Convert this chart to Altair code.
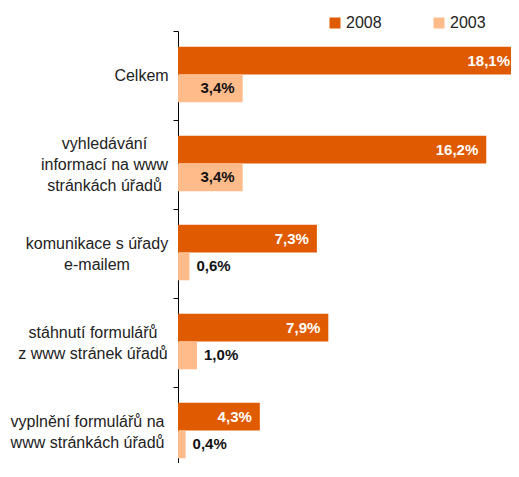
import altair as alt
import pandas as pd

categories = [
    "Celkem",
    "vyhledávání|informací na www|stránkách úřadů",
    "komunikace s úřady|e-mailem",
    "stáhnutí formulářů|z www stránek úřadů",
    "vyplnění formulářů na|www stránkách úřadů",
]
series = ["2008", "2003"]
values_2008 = [18.1, 16.2, 7.3, 7.9, 4.3]
values_2003 = [3.4, 3.4, 0.6, 1.0, 0.4]
colors = ["#E05A00", "#FFBB8A"]

# label centre offsets (styling) for each category label
label_pad = [32, 69, 76.5, 80.5, 86]
LINE_H = 21

XMAX = 17.5  # visible part of the value axis (longest bar runs off the edge)

rows = []
for c, a, b in zip(categories, values_2008, values_2003):
    rows.append({"cat": c, "series": "2008", "value": a})
    rows.append({"cat": c, "series": "2003", "value": b})
df = pd.DataFrame(rows)
df["label"] = df["value"].map(lambda v: f"{v:.1f}".replace(".", ",") + "%")

pad_cond = {
    "condition": [
        {"test": f"datum.value == '{c}'", "value": p}
        for c, p in zip(categories[:-1], label_pad[:-1])
    ],
    "value": label_pad[-1],
}
# vertical centring of multi-line labels
offs = [-(c.count("|")) * LINE_H / 2 for c in categories]
off_cond = {
    "condition": [
        {"test": f"datum.value == '{c}'", "value": o}
        for c, o in zip(categories[:-1], offs[:-1])
    ],
    "value": offs[-1],
}

FONT = "Liberation Sans"

y = alt.Y(
    "cat:N",
    sort=categories,
    scale=alt.Scale(paddingInner=0, paddingOuter=0, range=[0, 445]),
    axis=alt.Axis(
        title=None,
        labelExpr="split(datum.label, '|')",
        tickBand="extent",
        labelAlign="center",
        labelBaseline="middle",
        labelFont=FONT,
        labelFontSize=16,
        labelLineHeight=LINE_H,
        labelColor="#222222",
        labelLimit=0,
        domainColor="#000000",
        tickColor="#000000",
        tickSize=5,
        labelPadding=pad_cond,
        labelOffset=off_cond,
    ),
)
x = alt.X("value:Q", scale=alt.Scale(domain=[0, XMAX], nice=False, zero=True, clamp=True), axis=None)
yoff = alt.YOffset(
    "series:N",
    sort=series,
    scale=alt.Scale(paddingInner=0, paddingOuter=0.6, align=0.47),
)

base = alt.Chart(df).encode(y=y, yOffset=yoff, x=x)

bars = base.mark_bar().encode(
    color=alt.Color(
        "series:N",
        scale=alt.Scale(domain=series, range=colors),
        legend=alt.Legend(
            orient="none",
            legendX=149,
            legendY=-16,
            direction="horizontal",
            title=None,
            symbolType="square",
            symbolSize=121,
            symbolStrokeWidth=0,
            labelFont=FONT,
            labelFontSize=16,
            labelColor="#222222",
            labelOffset=3,
            columnPadding=49,
            padding=0,
        ),
    )
)

txt_style = dict(baseline="middle", font=FONT, fontSize=15, fontWeight="bold")

txt2008 = base.transform_filter(f"datum.series == '2008' && datum.value <= {XMAX}").mark_text(
    align="right", dx=-8, color="white", **txt_style
).encode(text="label:N")

txt2008_edge = base.transform_filter(f"datum.series == '2008' && datum.value > {XMAX}").mark_text(
    align="right", dx=-1, color="white", **txt_style
).encode(text="label:N")

txt2003_in = base.transform_filter("datum.series == '2003' && datum.value > 2").mark_text(
    align="right", dx=-8, color="#111111", **txt_style
).encode(text="label:N")

txt2003_out = base.transform_filter("datum.series == '2003' && datum.value <= 2").mark_text(
    align="left", dx=7, color="#111111", **txt_style
).encode(text="label:N")

chart = (
    alt.layer(bars, txt2008, txt2008_edge, txt2003_in, txt2003_out)
    .properties(
        width=333,
        height=432,
        autosize="none",
        padding={"left": 170, "top": 23, "right": 0, "bottom": 0},
        background="white",
    )
    .configure_view(stroke=None)
)

chart.save("out.html", embed_options={"renderer": "svg", "actions": False})
